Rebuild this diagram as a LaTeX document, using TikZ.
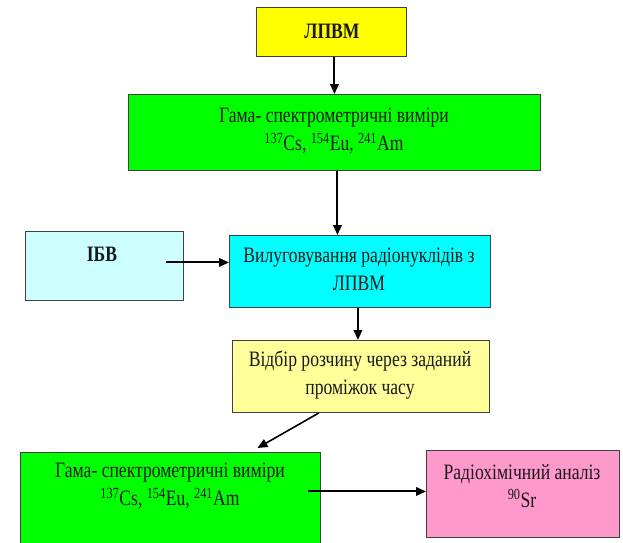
\documentclass[tikz,border=0pt]{standalone}
\usepackage{fontspec}
\setmainfont{Liberation Serif}[FakeStretch=0.8]
\usetikzlibrary{arrows.meta,calc}

\tikzset{
  box/.style={draw=black!75, line width=0.9pt, rectangle, inner sep=0pt, anchor=north west},
  txt/.style={font=\fontsize{22}{28}\selectfont, align=center, inner sep=0pt, text=black!90},
  arr/.style={draw=black, line width=2pt, -{Triangle[length=10pt,width=8.5pt]}},
}

\begin{document}
\begin{tikzpicture}[x=1pt,y=-1pt]
\useasboundingbox (0,0) rectangle (623,542);
\clip (0,0) rectangle (623,542);

% boxes
\node[box, fill={rgb,255:red,255;green,255;blue,0},   minimum width=150pt, minimum height=49pt] (b1) at (256,7) {};
\node[box, fill={rgb,255:red,0;green,255;blue,0},     minimum width=412pt, minimum height=76pt] (b2) at (128,94) {};
\node[box, fill={rgb,255:red,204;green,255;blue,255}, minimum width=158pt, minimum height=69pt] (ibv) at (25,231) {};
\node[box, fill={rgb,255:red,0;green,255;blue,255},   minimum width=261pt, minimum height=72pt] (b3) at (229,235) {};
\node[box, fill={rgb,255:red,255;green,255;blue,153}, minimum width=257pt, minimum height=72pt] (b4) at (232,340) {};
\node[box, fill={rgb,255:red,0;green,255;blue,0},     minimum width=300pt, minimum height=110pt] (b5) at (20,452) {};
\node[box, fill={rgb,255:red,255;green,153;blue,204}, minimum width=193pt, minimum height=87pt] (b6) at (426,450) {};

% texts
\node[txt, font=\fontsize{22}{28}\selectfont\bfseries] (t1) at (332,31) {ЛПВМ};
\node[txt] (t2) at (334,131) {Гама- спектрометричні виміри\\\textsuperscript{137}Cs, \textsuperscript{154}Eu, \textsuperscript{241}Am};
\node[txt, font=\fontsize{22}{28}\selectfont\bfseries] (tibv) at (102,254) {ІБВ};
\node[txt] (t3) at (359,269) {Вилуговування радіонуклідів з\\ЛПВМ};
\node[txt] (t4) at (360,375) {Відбір розчину через заданий\\проміжок часу};
\node[txt] (t5) at (170,486) {Гама- спектрометричні виміри\\\textsuperscript{137}Cs, \textsuperscript{154}Eu, \textsuperscript{241}Am};
\node[txt] (t6) at (522,486) {Радіохімічний аналіз\\\textsuperscript{90}Sr};

% connectors
\draw[arr] ([xshift=3pt]b1.south) -- ([xshift=3pt]b1.south |- b2.north);
\draw[arr] ([xshift=3pt]b2.south) -- ([xshift=3pt]b2.south |- b3.north);
\coordinate (in3) at ([yshift=3.5pt]b3.west |- ibv.east);
\draw[arr] ([xshift=-18pt]ibv.east |- in3) -- (in3);
\draw[arr] ([xshift=-2pt]b3.south) -- ([xshift=-2pt]b3.south |- b4.north);
\draw[arr, line width=1.6pt] ([xshift=-42pt]b4.south) -- ([xshift=87pt,yshift=4pt]b5.north);
\coordinate (in6) at ([yshift=2.5pt]b6.west);
\draw[arr] ([xshift=-13pt]b5.east |- in6) -- (in6);
\end{tikzpicture}
\end{document}
